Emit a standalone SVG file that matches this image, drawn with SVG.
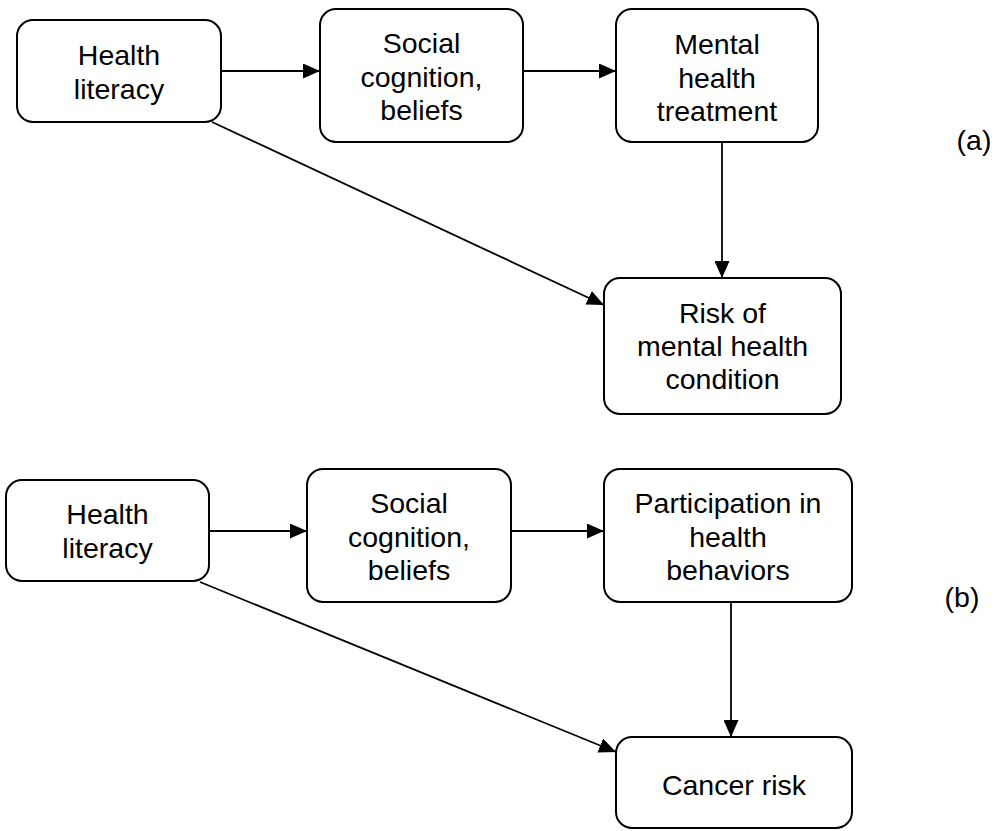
<svg xmlns="http://www.w3.org/2000/svg" width="997" height="831" viewBox="0 0 997 831">
<style>
.box{fill:#fff;stroke:#000;stroke-width:2}
.t{font-family:"Liberation Sans",Arial,sans-serif;font-size:28.5px;fill:#000;text-anchor:middle}
.c{stroke:#000;stroke-width:1.8;fill:none}
</style>
<defs>
<marker id="ah" markerUnits="userSpaceOnUse" markerWidth="17" markerHeight="15" refX="17" refY="7.5" orient="auto">
<path d="M0,0 L17,7.5 L0,15 Z" fill="#000"/>
</marker>
</defs>
<rect width="997" height="831" fill="#fff"/>
<g id="connectors">
<line class="c" x1="221" y1="71" x2="320" y2="71" marker-end="url(#ah)"/>
<line class="c" x1="523" y1="71" x2="616" y2="71" marker-end="url(#ah)"/>
<line class="c" x1="722" y1="142" x2="722" y2="278" marker-end="url(#ah)"/>
<line class="c" x1="212" y1="122" x2="604" y2="305" marker-end="url(#ah)"/>
<line class="c" x1="209" y1="531" x2="307" y2="531" marker-end="url(#ah)"/>
<line class="c" x1="511" y1="531" x2="604" y2="531" marker-end="url(#ah)"/>
<line class="c" x1="731" y1="602" x2="731" y2="737" marker-end="url(#ah)"/>
<line class="c" x1="200" y1="582" x2="616" y2="752" marker-end="url(#ah)"/>
</g>
<g id="a-health-literacy">
<rect class="box" x="17" y="20" width="204" height="102" rx="16"/>
<text class="t" x="119" y="65">Health</text>
<text class="t" x="119" y="99">literacy</text>
</g>
<g id="a-social-cognition">
<rect class="box" x="320" y="9" width="203" height="133" rx="16"/>
<text class="t" x="421.5" y="53">Social</text>
<text class="t" x="421.5" y="87">cognition,</text>
<text class="t" x="421.5" y="120">beliefs</text>
</g>
<g id="a-mental-health-treatment">
<rect class="box" x="616" y="9" width="202" height="133" rx="16"/>
<text class="t" x="717" y="54">Mental</text>
<text class="t" x="717" y="88">health</text>
<text class="t" x="717" y="121">treatment</text>
</g>
<g id="a-risk">
<rect class="box" x="604" y="278" width="237" height="136" rx="16"/>
<text class="t" x="722.5" y="323">Risk of</text>
<text class="t" x="722.5" y="356">mental health</text>
<text class="t" x="722.5" y="389">condition</text>
</g>
<g id="b-health-literacy">
<rect class="box" x="6" y="480" width="203" height="101" rx="16"/>
<text class="t" x="107.5" y="524">Health</text>
<text class="t" x="107.5" y="558">literacy</text>
</g>
<g id="b-social-cognition">
<rect class="box" x="307" y="469" width="204" height="133" rx="16"/>
<text class="t" x="409" y="513">Social</text>
<text class="t" x="409" y="547">cognition,</text>
<text class="t" x="409" y="580">beliefs</text>
</g>
<g id="b-participation">
<rect class="box" x="604" y="469" width="248" height="133" rx="16"/>
<text class="t" x="728" y="513">Participation in</text>
<text class="t" x="728" y="547">health</text>
<text class="t" x="728" y="580">behaviors</text>
</g>
<g id="b-cancer-risk">
<rect class="box" x="616" y="737" width="236" height="91" rx="16"/>
<text class="t" x="734" y="795">Cancer risk</text>
</g>
<text class="t" x="974" y="150">(a)</text>
<text class="t" x="962" y="607">(b)</text>
</svg>
